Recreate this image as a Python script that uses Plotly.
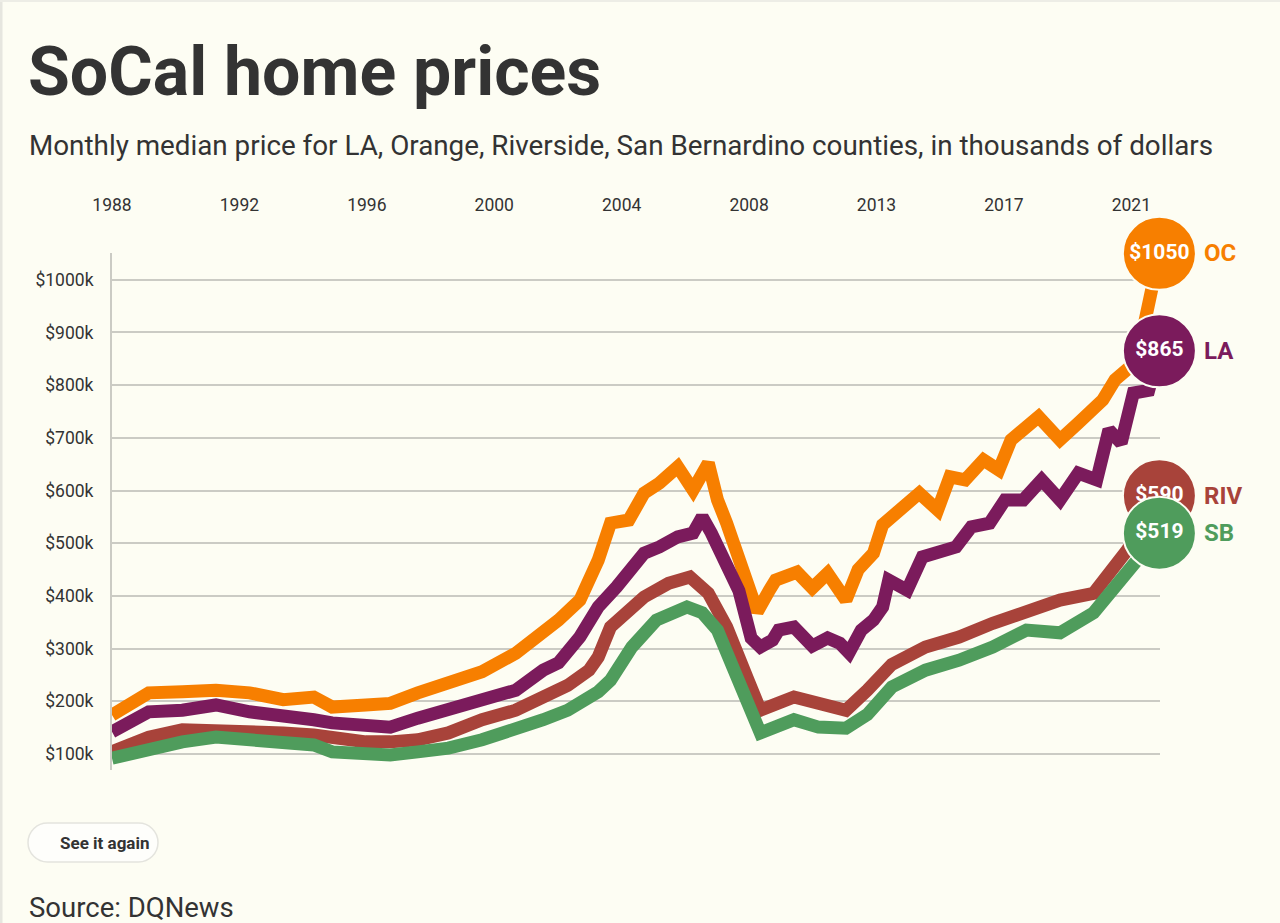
import plotly.graph_objects as go

# ---------------- data (thousands of dollars) ----------------
oc_years = [1988.0, 1989.2, 1990.3, 1991.4, 1992.5, 1993.6, 1994.6, 1995.2, 1996.3, 1997.1,
            1998.0, 1999.0, 2000.1, 2001.2, 2002.1, 2002.6, 2003.3, 2003.6, 2003.9, 2004.3,
            2004.9, 2005.4, 2005.9, 2006.5, 2007.0, 2007.5, 2007.8, 2008.1, 2008.6, 2009.1,
            2009.5, 2009.7, 2010.4, 2010.9, 2011.4, 2012.0, 2012.4, 2012.9, 2013.2, 2013.8,
            2014.4, 2015.0, 2015.4, 2015.9, 2016.5, 2017.0, 2017.4, 2018.3, 2019.0, 2019.6,
            2020.4, 2020.8, 2021.3, 2021.7, 2022.0, 2022.25]
oc_values = [174, 216, 218, 221, 216, 203, 208, 189, 193, 196,
             216, 237, 256, 291, 330, 354, 392, 430, 468, 538,
             544, 595, 614, 645, 601, 652, 582, 538, 455, 370,
             411, 430, 445, 415, 443, 392, 450, 481, 535, 563,
             595, 563, 626, 620, 658, 639, 696, 740, 696, 728,
             772, 810, 835, 900, 975, 1050]

la_years = [1988.0, 1989.2, 1990.3, 1991.4, 1992.5, 1993.6, 1994.6, 1995.2, 1996.3, 1997.1,
            1998.0, 1999.0, 2000.1, 2001.2, 2002.1, 2002.6, 2003.3, 2003.9, 2004.5, 2005.4,
            2005.9, 2006.5, 2007.0, 2007.3, 2007.6, 2008.1, 2008.5, 2008.9, 2009.2, 2009.6,
            2009.8, 2010.3, 2010.9, 2011.4, 2011.8, 2012.1, 2012.5, 2012.9, 2013.2, 2013.4,
            2014.0, 2014.5, 2015.1, 2015.6, 2016.1, 2016.7, 2017.2, 2017.8, 2018.4, 2019.0,
            2019.6, 2020.2, 2020.6, 2021.0, 2021.4, 2021.9, 2022.25]
la_values = [142, 180, 183, 193, 180, 174, 165, 159, 155, 151,
             168, 183, 203, 221, 259, 273, 322, 379, 417, 481,
             493, 512, 519, 550, 519, 462, 410, 320, 303, 316,
             335, 341, 305, 320, 310, 292, 335, 354, 379, 430,
             411, 474, 487, 493, 531, 538, 582, 582, 620, 582,
             633, 620, 715, 690, 785, 790, 865]

riv_years = [1988.0, 1989.2, 1990.3, 1991.4, 1992.5, 1993.6, 1994.6, 1995.2, 1996.3, 1997.1,
             1998.0, 1999.0, 2000.1, 2001.2, 2002.1, 2002.9, 2003.6, 2003.9, 2004.3, 2005.4,
             2006.2, 2006.9, 2007.5, 2008.1, 2008.8, 2009.2, 2010.3, 2011.1, 2012.0, 2012.7,
             2013.5, 2014.6, 2015.7, 2016.8, 2017.9, 2019.0, 2020.1, 2020.7, 2021.2, 2022.25]
riv_values = [104, 132, 146, 146, 142, 140, 136, 130, 123, 123,
              127, 140, 165, 183, 208, 230, 259, 284, 341, 398,
              424, 436, 405, 341, 240, 183, 208, 197, 183, 221,
              270, 303, 322, 348, 373, 392, 405, 449, 487, 590]

sb_years = [1988.0, 1989.2, 1990.3, 1991.4, 1992.5, 1993.6, 1994.6, 1995.2, 1996.3, 1997.1,
            1998.0, 1999.0, 2000.1, 2001.2, 2002.1, 2002.9, 2003.6, 2003.9, 2004.3, 2005.0,
            2005.8, 2006.8, 2007.3, 2007.8, 2008.3, 2008.5, 2009.2, 2010.3, 2011.1, 2012.0,
            2012.7, 2013.5, 2014.6, 2015.7, 2016.8, 2017.9, 2019.0, 2020.1, 2020.6, 2021.3,
            2022.25]
sb_values = [92, 111, 123, 132, 127, 123, 117, 104, 98, 98,
             104, 111, 127, 146, 165, 183, 203, 218, 240, 303,
             354, 379, 368, 335, 265, 235, 140, 165, 151, 149,
             175, 227, 259, 278, 303, 335, 330, 368, 405, 455,
             519]

series_names = ["OC", "LA", "RIV", "SB"]
end_labels = ["$1050", "$865", "$590", "$519"]

x_tick_labels = ["1988", "1992", "1996", "2000", "2004", "2008", "2013", "2017", "2021"]
x_tick_months = [0, 50, 100, 150, 200, 250, 300, 350, 400]   # months after Jan 1988
y_tick_values = [100, 200, 300, 400, 500, 600, 700, 800, 900, 1000]
y_tick_labels = ["$100k", "$200k", "$300k", "$400k", "$500k",
                 "$600k", "$700k", "$800k", "$900k", "$1000k"]

# ---------------- style ----------------
BG = "#fdfdf3"
GRID = "#cbcbc4"
TEXT = "#333333"
colors = {"OC": "#f77f00", "LA": "#7b1b5c", "RIV": "#a8433a", "SB": "#4f9c5c"}
FONT = "Roboto"

data = {
    "OC": (oc_years, oc_values),
    "LA": (la_years, la_values),
    "RIV": (riv_years, riv_values),
    "SB": (sb_years, sb_values),
}

fig = go.Figure()

for name in series_names:
    xs, ys = data[name]
    fig.add_trace(go.Scatter(
        x=xs, y=ys, mode="lines", name=name,
        line=dict(color=colors[name], width=13),
        hoverinfo="skip", showlegend=False, cliponaxis=False,
    ))

for name, lab in zip(series_names, end_labels):
    xs, ys = data[name]
    fig.add_trace(go.Scatter(
        x=[xs[-1]], y=[ys[-1]], mode="markers+text",
        marker=dict(size=73, color=colors[name], line=dict(color=BG, width=2)),
        text=[lab], textposition="middle center",
        textfont=dict(family=FONT, size=21, color="white", weight="bold"),
        hoverinfo="skip", showlegend=False, cliponaxis=False,
    ))

annotations = []
for name in series_names:
    xs, ys = data[name]
    annotations.append(dict(
        x=xs[-1], y=ys[-1], xref="x", yref="y", xanchor="left", yanchor="middle",
        xshift=43, text=name, showarrow=False,
        font=dict(family=FONT, size=24, color=colors[name], weight="bold"),
    ))

# plot area in pixels: x 112..1160, y 253..770
L, R, T, B = 112, 1160, 253, 770


def px(xp):
    return (xp - L) / (R - L)


def py(yp):
    return (B - yp) / (B - T)


annotations += [
    dict(x=px(26), y=py(72), xref="paper", yref="paper", xanchor="left", yanchor="middle",
         text="SoCal home prices", showarrow=False,
         font=dict(family=FONT, size=68, color=TEXT, weight="bold")),
    dict(x=px(27), y=py(145), xref="paper", yref="paper", xanchor="left", yanchor="middle",
         text="Monthly median price for LA, Orange, Riverside, San Bernardino counties, in thousands of dollars",
         showarrow=False, font=dict(family=FONT, size=27.8, color=TEXT)),
    dict(x=px(104), y=py(843), xref="paper", yref="paper", xanchor="center", yanchor="middle",
         text="See it again", showarrow=False,
         font=dict(family=FONT, size=17, color=TEXT, weight="bold")),
    dict(x=px(27), y=py(907), xref="paper", yref="paper", xanchor="left", yanchor="middle",
         text="Source: DQNews", showarrow=False,
         font=dict(family=FONT, size=27.5, color=TEXT)),
]

btn_path = ("M -45.5,-19.5 L 45.5,-19.5 C 56.27,-19.5 65,-10.77 65,0 "
            "C 65,10.77 56.27,19.5 45.5,19.5 L -45.5,19.5 "
            "C -56.27,19.5 -65,10.77 -65,0 C -65,-10.77 -56.27,-19.5 -45.5,-19.5 Z")

shapes = [
    dict(type="path", xref="paper", yref="paper", xsizemode="pixel", ysizemode="pixel",
         xanchor=px(93), yanchor=py(842.5), path=btn_path,
         fillcolor="#fefefb", line=dict(color="#e4e4de", width=1.5), layer="below"),
    dict(type="line", xref="paper", yref="paper", x0=px(1), x1=px(1), y0=py(923), y1=py(0),
         line=dict(color="#e6e6df", width=3)),
    dict(type="line", xref="paper", yref="paper", x0=px(0), x1=px(1280), y0=py(1), y1=py(1),
         line=dict(color="#ededE6", width=2)),
]

x_tick_vals = [1988 + m / 12 for m in x_tick_months]

fig.update_layout(
    width=1280, height=923,
    margin=dict(l=L, r=1280 - R, t=T, b=923 - B),
    paper_bgcolor=BG, plot_bgcolor=BG,
    font=dict(family=FONT, color=TEXT),
    annotations=annotations, shapes=shapes,
    xaxis=dict(range=[1988, 2022.27], side="top", tickvals=x_tick_vals, ticktext=x_tick_labels,
               showgrid=False, zeroline=False, showline=False, ticks="",
               tickfont=dict(family=FONT, size=17.5, color=TEXT), ticklabelstandoff=38),
    yaxis=dict(range=[69.6, 1050.7], tickvals=y_tick_values, ticktext=y_tick_labels,
               showgrid=True, gridcolor=GRID, gridwidth=2, zeroline=False,
               showline=True, linecolor=GRID, linewidth=2, ticks="",
               tickfont=dict(family=FONT, size=17.5, color=TEXT), ticklabelstandoff=13),
)

fig.write_html(
    "out.html",
    config={"displayModeBar": False},
    post_script="document.body.style.margin='0px';document.body.style.overflow='hidden';",
)
